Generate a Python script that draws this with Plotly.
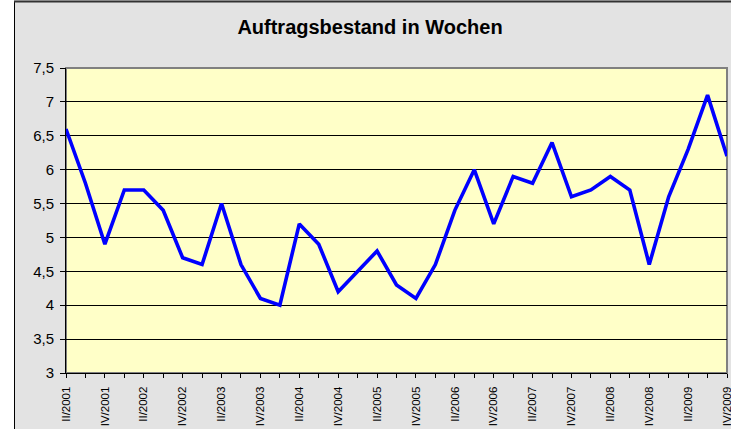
import plotly.graph_objects as go

quarters = (["II/2001", "III/2001", "IV/2001"] +
            [f"{q}/{y}" for y in range(2002, 2010) for q in ["I", "II", "III", "IV"]])
values = [6.6, 5.8, 4.9, 5.7, 5.7, 5.4, 4.7, 4.6, 5.5, 4.6,
          4.1, 4.0, 5.2, 4.9, 4.2, 4.5, 4.8, 4.3, 4.1, 4.6,
          5.4, 6.0, 5.2, 5.9, 5.8, 6.4, 5.6, 5.7, 5.9, 5.7,
          4.6, 5.6, 6.3, 7.1, 6.2]
y_ticks = [3, 3.5, 4, 4.5, 5, 5.5, 6, 6.5, 7, 7.5]
y_ticktext = ["3", "3,5", "4", "4,5", "5", "5,5", "6", "6,5", "7", "7,5"]
x_ticktext = [q if i % 2 == 0 else "" for i, q in enumerate(quarters)]
title_text = "Auftragsbestand in Wochen"

W, H = 731, 429
ml, mr, mt, mb = 66, 4, 68, 56
pw, ph = W - ml - mr, H - mt - mb

def px_x(p):
    return (p - ml) / pw

def px_y(p):
    return (H - mb - p) / ph

fig = go.Figure()
fig.add_trace(go.Scatter(
    x=quarters, y=values, mode="lines",
    line=dict(color="#0000FF", width=3.6),
    hoverinfo="x+y", showlegend=False,
))

shapes = [
    # white strip left of chart frame
    dict(type="rect", xref="paper", yref="paper", layer="above",
         x0=px_x(-5), x1=px_x(14), y0=px_y(440), y1=px_y(-5),
         fillcolor="white", line=dict(width=0)),
    # frame left line
    dict(type="line", xref="paper", yref="paper", layer="above",
         x0=px_x(14.5), x1=px_x(14.5), y0=px_y(440), y1=px_y(1),
         line=dict(color="#000000", width=1)),
    # frame top line
    dict(type="line", xref="paper", yref="paper", layer="above",
         x0=px_x(14), x1=px_x(760), y0=px_y(1.5), y1=px_y(1.5),
         line=dict(color="#333333", width=2)),
    # plot area border (gray)
    dict(type="rect", xref="paper", yref="paper", layer="below",
         x0=0, x1=1, y0=0, y1=1,
         line=dict(color="#808080", width=2), fillcolor="rgba(0,0,0,0)"),
]

fig.update_layout(
    width=W, height=H,
    margin=dict(l=ml, r=mr, t=mt, b=mb, autoexpand=False),
    paper_bgcolor="#E3E3E3",
    plot_bgcolor="#FFFFC8",
    font=dict(family="Liberation Sans, Arial, sans-serif", color="#000000"),
    title=dict(text=f"<b>{title_text}</b>", x=370 / W, xref="container", xanchor="center",
               y=1 - 27 / H, yref="container", yanchor="middle",
               font=dict(size=20, color="#000000")),
    shapes=shapes,
    xaxis=dict(
        type="category", range=[0, len(quarters) - 1],
        tickmode="array", tickvals=quarters, ticktext=x_ticktext,
        tickangle=-90, tickfont=dict(size=11.5),
        ticks="outside", ticklen=4, tickcolor="#000000", tickwidth=1,
        showline=True, linecolor="#000000", linewidth=1,
        showgrid=False, zeroline=False, fixedrange=True,
        ticklabelstandoff=4, automargin=False,
    ),
    xaxis2=dict(
        overlaying="x", anchor="y", side="bottom",
        range=[0, len(quarters) - 1], tickmode="linear", tick0=0, dtick=1,
        ticks="inside", ticklen=4, tickcolor="#000000", tickwidth=1,
        showticklabels=False, showgrid=False, zeroline=False, showline=False,
        automargin=False, fixedrange=True,
    ),
    yaxis=dict(
        range=[3, 7.5], tickmode="array", tickvals=y_ticks, ticktext=y_ticktext,
        tickfont=dict(size=15),
        ticks="outside", ticklen=5, tickcolor="#000000", tickwidth=1,
        showline=True, linecolor="#000000", linewidth=1,
        showgrid=True, gridcolor="#000000", gridwidth=1,
        zeroline=False, fixedrange=True,
        ticklabelstandoff=3, automargin=False,
    ),
)

fig.write_html(
    "out.html",
    config={"displayModeBar": False},
    post_script="document.body.style.margin='0';document.body.style.overflow='hidden';",
)
